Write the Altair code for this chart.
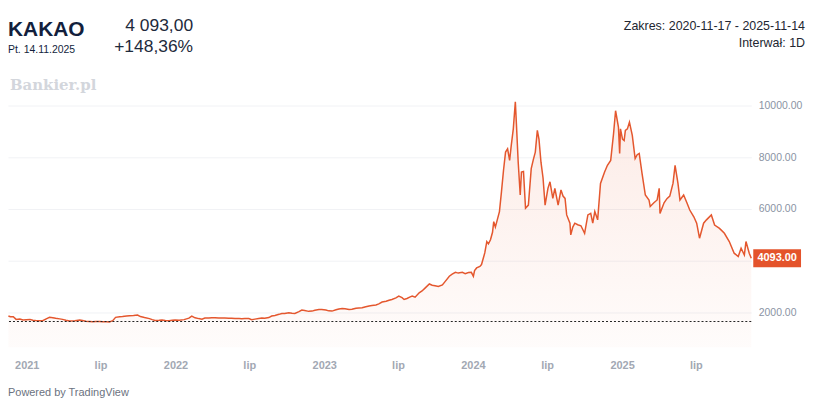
import altair as alt
import pandas as pd

# ---- data ----
dates = [
    "2020-11-17","2020-11-22","2020-11-29","2020-12-06","2020-12-15","2020-12-23","2020-12-31",
    "2021-01-09","2021-01-16","2021-01-23","2021-02-02","2021-02-09","2021-02-19","2021-02-26",
    "2021-03-06","2021-03-13","2021-03-23","2021-03-30","2021-04-07","2021-04-16","2021-04-29",
    "2021-05-11","2021-05-18","2021-05-26","2021-06-04","2021-06-12","2021-06-19","2021-06-29",
    "2021-07-06","2021-07-16","2021-07-23","2021-07-31","2021-08-07","2021-08-17","2021-08-24",
    "2021-09-03","2021-09-10","2021-09-20","2021-09-30","2021-10-07","2021-10-17","2021-10-29",
    "2021-11-05","2021-11-12","2021-11-22","2021-11-29","2021-12-07","2021-12-16","2021-12-24",
    "2021-12-31","2022-01-10","2022-01-22","2022-02-03","2022-02-10","2022-02-18","2022-02-27",
    "2022-03-07","2022-03-14","2022-03-24","2022-03-31","2022-04-08","2022-04-17","2022-04-25",
    "2022-05-02","2022-05-12","2022-05-19","2022-05-27","2022-06-06","2022-06-13","2022-06-20",
    "2022-06-30","2022-07-07","2022-07-15","2022-07-24","2022-08-01","2022-08-08","2022-08-18",
    "2022-08-25","2022-09-02","2022-09-12","2022-09-19","2022-09-26","2022-10-06","2022-10-14",
    "2022-10-21","2022-10-31","2022-11-07","2022-11-14","2022-11-24","2022-12-02","2022-12-09",
    "2022-12-19","2022-12-26","2023-01-05","2023-01-12","2023-01-20","2023-01-30","2023-02-06",
    "2023-02-14","2023-02-21","2023-03-03","2023-03-10","2023-03-20","2023-03-27","2023-04-04",
    "2023-04-13","2023-04-21","2023-04-28","2023-05-08","2023-05-15","2023-05-23","2023-06-02",
    "2023-06-09","2023-06-16","2023-06-26","2023-07-03","2023-07-11","2023-07-16","2023-07-23",
    "2023-07-31","2023-08-05","2023-08-12","2023-08-22","2023-08-29","2023-09-06","2023-09-16",
    "2023-09-23","2023-09-30","2023-10-08","2023-10-18","2023-10-25","2023-11-04","2023-11-11",
    "2023-11-19","2023-11-26","2023-12-06","2023-12-13","2023-12-21","2023-12-28","2024-01-02",
    "2024-01-05","2024-01-10","2024-01-18","2024-01-22","2024-01-30","2024-02-04","2024-02-08",
    "2024-02-13","2024-02-18","2024-02-21","2024-02-25","2024-03-01","2024-03-06","2024-03-11",
    "2024-03-16","2024-03-21","2024-03-26","2024-03-31","2024-04-04","2024-04-09","2024-04-14",
    "2024-04-17","2024-04-21","2024-04-26","2024-04-29","2024-05-04","2024-05-09","2024-05-16",
    "2024-05-23","2024-05-28","2024-06-02","2024-06-07","2024-06-11","2024-06-16","2024-06-21",
    "2024-06-26","2024-07-03","2024-07-08","2024-07-15","2024-07-20","2024-07-28","2024-08-04",
    "2024-08-09","2024-08-14","2024-08-18","2024-08-26","2024-08-28","2024-09-02","2024-09-07",
    "2024-09-14","2024-09-22","2024-10-01","2024-10-09","2024-10-16","2024-10-21","2024-10-26",
    "2024-11-02","2024-11-09","2024-11-19","2024-11-26","2024-12-04","2024-12-11","2024-12-16",
    "2024-12-23","2024-12-26","2024-12-28","2025-01-02","2025-01-06","2025-01-09","2025-01-14",
    "2025-01-19","2025-01-26","2025-02-02","2025-02-07","2025-02-12","2025-02-19","2025-02-27",
    "2025-03-08","2025-03-11","2025-03-20","2025-03-28","2025-04-02","2025-04-04","2025-04-14",
    "2025-04-21","2025-04-28","2025-05-06","2025-05-11","2025-05-18","2025-05-23","2025-06-01",
    "2025-06-09","2025-06-16","2025-06-26","2025-07-03","2025-07-10","2025-07-20","2025-07-27",
    "2025-08-08","2025-08-16","2025-08-28","2025-09-09","2025-09-21","2025-10-03","2025-10-13",
    "2025-10-20","2025-10-28","2025-11-01","2025-11-09","2025-11-14",
]
values = [
    1858,1830,1830,1730,1740,1710,1720,
    1730,1700,1690,1680,1680,1760,1808,
    1790,1770,1750,1730,1700,1670,1680,
    1710,1690,1660,1650,1640,1645,1650,
    1640,1635,1630,1680,1808,1830,1840,
    1860,1870,1880,1900,1840,1800,1760,
    1720,1690,1700,1710,1690,1680,1700,
    1710,1700,1720,1780,1860,1790,1760,
    1740,1780,1780,1795,1790,1780,1780,
    1785,1775,1770,1760,1760,1755,1760,
    1760,1720,1740,1760,1780,1770,1800,
    1860,1880,1925,1960,1960,1990,1970,
    1960,2030,2090,2070,2040,2050,2080,
    2110,2115,2090,2060,2050,2100,2130,
    2155,2140,2115,2120,2160,2170,2180,
    2220,2250,2270,2290,2330,2400,2430,
    2470,2500,2560,2630,2570,2500,2540,
    2600,2630,2590,2760,2830,2950,3100,
    3050,3030,3000,3060,3200,3400,3480,
    3550,3520,3550,3500,3540,3550,3400,
    3620,3720,3780,3850,4300,4740,4650,
    4810,5100,5510,5300,5600,5900,6670,
    7500,8200,8330,7880,8460,9100,10150,
    9170,7820,6540,7430,7450,6030,6150,
    7560,7900,8200,9040,8700,7800,7200,
    6150,6800,7050,6410,6800,6150,6740,
    6500,6410,5770,5450,5000,5300,5450,
    5390,5350,5060,5770,5830,5450,5900,
    5580,6990,7430,7690,7880,8910,9800,
    9170,8150,9100,8700,8650,9040,9100,
    9360,8850,7950,8100,8150,7370,6540,
    6350,6100,6240,6350,6800,5830,6240,
    6400,6500,7000,7690,7000,6350,6540,
    6240,5960,5700,5450,4870,5450,5580,
    5770,5380,5250,5060,4740,4290,4160,
    4480,4220,4740,4290,4093,
]
base_price = [1648]
y_ticks = [2000, 4000, 6000, 8000, 10000]
x_tick_dates = [(2021, 1), (2021, 7), (2022, 1), (2022, 7), (2023, 1), (2023, 7),
                (2024, 1), (2024, 7), (2025, 1), (2025, 7)]
title_name = ["KAKAO"]
title_date = ["Pt. 14.11.2025"]
title_price = ["4 093,00"]
title_change = ["+148,36%"]
range_text = ["Zakres: 2020-11-17 - 2025-11-14"]
interval_text = ["Interwał: 1D"]
watermark = ["Bankier.pl"]
footer = ["Powered by TradingView"]

df = pd.DataFrame({"date": dates, "value": values})
last_df = pd.DataFrame({"v": [values[-1]]})

LINE = "#e4572e"
FONT = "Liberation Sans"

W, H = 747, 258

xscale = alt.Scale(type="utc",
                   domain=[alt.DateTime(year=2020, month=11, date=16, utc=True),
                           alt.DateTime(year=2025, month=11, date=14, utc=True)])
yscale = alt.Scale(domain=[650, 10580], zero=False, nice=False)

xaxis = alt.Axis(
    values=[alt.DateTime(year=y, month=m, date=1, utc=True) for y, m in x_tick_dates],
    labelExpr="utcmonth(datum.value) == 0 ? utcFormat(datum.value, '%Y') : 'lip'",
    ticks=False, domain=False, grid=False, labelPadding=12, labelFontSize=11,
    labelFontWeight="bold", labelColor="#a2a8b3", labelFont=FONT, title=None,
)
# the 4000 label sits under the last-price box, so only its gridline is shown
yaxis = alt.Axis(
    orient="right", values=y_ticks, ticks=False, domain=False,
    labelExpr=f"datum.value == 4000 ? '' : format(datum.value, '.2f')",
    grid=True, gridColor="#f1f2f5", gridWidth=1, labelPadding=7, labelFontSize=10.5,
    labelColor="#8a93a3", labelFont=FONT, title=None,
)

X = alt.X("date:T", scale=xscale, axis=xaxis)
Y = alt.Y("value:Q", scale=yscale, axis=yaxis)

area = alt.Chart(df).mark_area(
    color=alt.Gradient(
        gradient="linear",
        stops=[alt.GradientStop(color="rgba(232,87,43,0.12)", offset=0),
               alt.GradientStop(color="rgba(232,87,43,0.02)", offset=1)],
        x1=0, x2=0, y1=0, y2=1,
    )
).encode(x=X, y=Y, y2=alt.datum(650))

line = alt.Chart(df).mark_line(color=LINE, strokeWidth=1.5).encode(x=X, y=Y)

baseline = alt.Chart(pd.DataFrame({"b": base_price})).mark_rule(
    color="#222222", strokeDash=[2, 2], strokeWidth=1
).encode(y=alt.Y("b:Q", scale=yscale, axis=yaxis))

box = alt.Chart(last_df).transform_calculate(
    lo="datum.v - 346", hi="datum.v + 346"
).mark_rect(color="#e4532b").encode(
    x=alt.value(749), x2=alt.value(797), y=alt.Y("lo:Q", scale=yscale, axis=yaxis), y2="hi:Q"
)
box_text = alt.Chart(last_df).mark_text(
    color="white", fontWeight="bold", fontSize=11, font=FONT, align="center", baseline="middle"
).encode(x=alt.value(773), y=alt.Y("v:Q", scale=yscale, axis=yaxis),
         text=alt.Text("v:Q", format=".2f"))


def label(txt, x, y, size, color, align="left", weight="normal", font=FONT):
    return alt.Chart(pd.DataFrame({"t": txt})).mark_text(
        align=align, baseline="alphabetic", fontSize=size, color=color,
        fontWeight=weight, font=font
    ).encode(x=alt.value(x), y=alt.value(y), text="t:N")


texts = [
    label(title_name, 0, -55, 21, "#131f3d", weight="bold"),
    label(title_date, 0, -37.5, 10.5, "#131f3d"),
    label(title_price, 186, -60, 17.5, "#1e2a3c", align="right"),
    label(title_change, 186, -38.5, 17.5, "#1e2a3c", align="right"),
    label(range_text, 801, -60.5, 12.5, "#222631", align="right"),
    label(interval_text, 801, -43.5, 12.5, "#222631", align="right"),
    label(watermark, 2, -1, 15, "#d3d6dc", weight="bold", font="DejaVu Serif"),
    label(footer, 0, 307, 11, "#6b7280"),
]

chart = alt.layer(area, line, baseline, box, box_text, *texts).properties(
    width=W, height=H,
    autosize=alt.AutoSizeParams(type="none"),
    padding={"left": 0, "top": 82, "right": 56, "bottom": 60},
    background="white",
).configure_view(stroke=None)

chart.save("out.html", embed_options={"renderer": "svg", "actions": False})
